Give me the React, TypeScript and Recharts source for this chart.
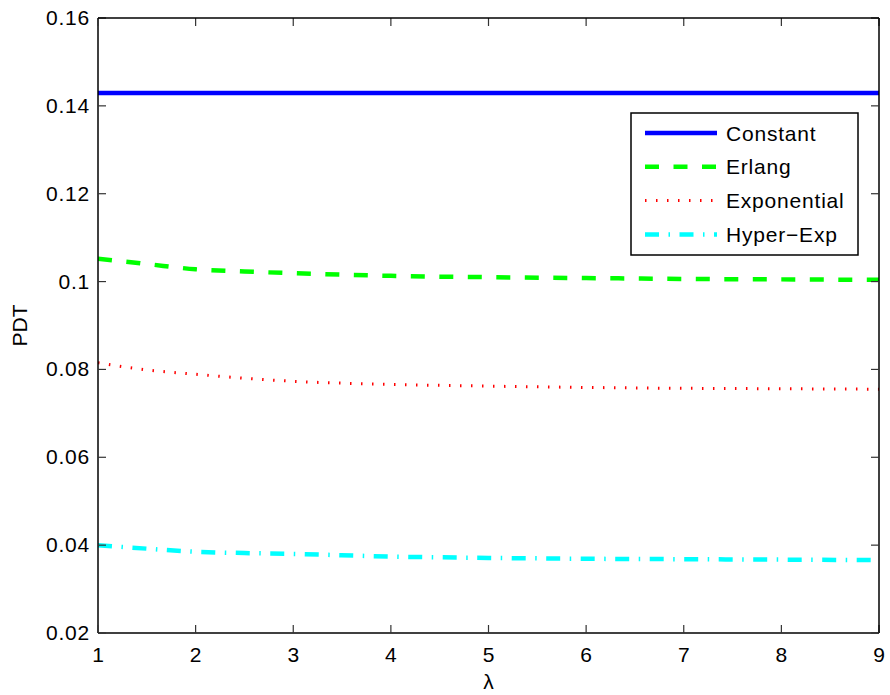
import React from 'react';
import { LineChart, Line, XAxis, YAxis } from 'recharts';

// lambda values along the x axis
const lambdaValues = [1, 1.5, 2, 2.5, 3, 4, 5, 6, 7, 8, 9];

const constantPdt = [0.1429, 0.1429, 0.1429, 0.1429, 0.1429, 0.1429, 0.1429, 0.1429, 0.1429, 0.1429, 0.1429];
const erlangPdt = [0.1052, 0.104, 0.1028, 0.1023, 0.1019, 0.1013, 0.101, 0.1008, 0.1006, 0.1005, 0.1004];
const exponentialPdt = [0.0815, 0.0799, 0.0789, 0.078, 0.0773, 0.0766, 0.0762, 0.0759, 0.0757, 0.0756, 0.0755];
const hyperExpPdt = [0.04, 0.0392, 0.0385, 0.0382, 0.038, 0.0374, 0.0371, 0.0369, 0.0368, 0.0367, 0.0366];

const xTicks = [1, 2, 3, 4, 5, 6, 7, 8, 9];
const yTicks = [0.02, 0.04, 0.06, 0.08, 0.1, 0.12, 0.14, 0.16];

const series = [
  { key: 'constant', name: 'Constant', color: '#0000ff', width: 4.5, dash: undefined as string | undefined },
  { key: 'erlang', name: 'Erlang', color: '#00ff00', width: 4.5, dash: '14 14.5' },
  { key: 'exponential', name: 'Exponential', color: '#ff0000', width: 3, dash: '1.5 9.5' },
  { key: 'hyperExp', name: 'Hyper\u2212Exp', color: '#00ffff', width: 4.5, dash: '14 9.5 1.5 9.5' },
];

const data = lambdaValues.map((lambda, i) => ({
  lambda,
  constant: constantPdt[i],
  erlang: erlangPdt[i],
  exponential: exponentialPdt[i],
  hyperExp: hyperExpPdt[i],
}));

const FONT = '"Liberation Sans", Arial, Helvetica, sans-serif';
const FONT_SIZE = 21;
const SPACING = 0.8;
const TICK_LEN = 8;
const TICK_GAP = 8;

const CHART_W = 890;
const CHART_H = 695;
const MARGIN = { top: 18, right: 11, bottom: 0, left: 0 };
const Y_AXIS_W = 98;
const X_AXIS_H = 62;
const PLOT_W = CHART_W - MARGIN.left - MARGIN.right - Y_AXIS_W;
const PLOT_H = CHART_H - MARGIN.top - MARGIN.bottom - X_AXIS_H;

const seg = (x1: number, y1: number, x2: number, y2: number) => `M${x1},${y1}L${x2},${y2}`;

// left ticks also draw the mirrored tick on the right side and the top border
const LeftTick = (props: any) => {
  const x = Number(props.x);
  const y = Number(props.y);
  const { payload, index } = props;
  const axisX = x + TICK_GAP;
  const rightX = axisX + PLOT_W;
  return (
    <g>
      <path d={seg(axisX, y, axisX + TICK_LEN, y)} stroke="#333" strokeWidth={1.2} fill="none" />
      <path d={seg(rightX, y, rightX - TICK_LEN, y)} stroke="#333" strokeWidth={1.2} fill="none" />
      {index === yTicks.length - 1 && (
        <path d={seg(axisX, y, rightX, y)} stroke="#000" strokeWidth={1.5} fill="none" />
      )}
      <text x={x} y={y} dy={7} textAnchor="end" fontSize={FONT_SIZE} letterSpacing={SPACING} fontFamily={FONT} fill="#000">
        {payload.value}
      </text>
    </g>
  );
};

// bottom ticks also draw the mirrored tick on top and the right border
const BottomTick = (props: any) => {
  const x = Number(props.x);
  const y = Number(props.y);
  const { payload, index } = props;
  const axisY = y - TICK_GAP;
  const topY = axisY - PLOT_H;
  return (
    <g>
      <path d={seg(x, axisY, x, axisY - TICK_LEN)} stroke="#333" strokeWidth={1.2} fill="none" />
      <path d={seg(x, topY, x, topY + TICK_LEN)} stroke="#333" strokeWidth={1.2} fill="none" />
      {index === xTicks.length - 1 && (
        <path d={seg(x, topY, x, axisY)} stroke="#000" strokeWidth={1.5} fill="none" />
      )}
      <text x={x} y={y} dy={21} textAnchor="middle" fontSize={FONT_SIZE} fontFamily={FONT} fill="#000">
        {payload.value}
      </text>
    </g>
  );
};

const LegendBox = () => (
  <svg width={229} height={144} style={{ display: 'block' }}>
    <rect x={1} y={1} width={227} height={142} fill="#fff" stroke="#000" strokeWidth={1.5} />
    {series.map((s, i) => {
      const cy = 21 + i * 33.8;
      return (
        <g key={s.key}>
          <path d={seg(15, cy, 87, cy)} stroke={s.color} strokeWidth={s.width} strokeDasharray={s.dash} fill="none" />
          <text x={96} y={cy} dy={7.5} fontSize={FONT_SIZE} letterSpacing={SPACING} fontFamily={FONT} fill="#000">
            {s.name}
          </text>
        </g>
      );
    })}
  </svg>
);

const App: React.FC = () => {
  return (
    <div style={{ position: 'absolute', left: 0, top: 0, width: CHART_W, height: CHART_H, background: '#fff' }}>
      <LineChart width={CHART_W} height={CHART_H} data={data} margin={MARGIN}>
        <XAxis
          dataKey="lambda"
          type="number"
          domain={[1, 9]}
          ticks={xTicks}
          allowDataOverflow
          height={X_AXIS_H}
          tickSize={0}
          tickMargin={TICK_GAP}
          tickLine={false}
          axisLine={{ stroke: '#000', strokeWidth: 1.5 }}
          tick={<BottomTick />}
          label={{ value: '\u03bb', position: 'insideBottom', offset: 6, fontSize: FONT_SIZE, fontFamily: FONT, fill: '#000' }}
        />
        <YAxis
          type="number"
          domain={[0.02, 0.16]}
          ticks={yTicks}
          allowDataOverflow
          width={Y_AXIS_W}
          tickSize={0}
          tickMargin={TICK_GAP}
          tickLine={false}
          axisLine={{ stroke: '#000', strokeWidth: 1.5 }}
          tick={<LeftTick />}
          label={{ value: 'PDT', angle: -90, position: 'insideLeft', offset: 20, fontSize: FONT_SIZE, fontFamily: FONT, fill: '#000', style: { textAnchor: 'middle' } }}
        />
        {series.map((s) => (
          <Line
            key={s.key}
            type="monotone"
            dataKey={s.key}
            name={s.name}
            stroke={s.color}
            strokeWidth={s.width}
            strokeDasharray={s.dash}
            dot={false}
            activeDot={false}
            isAnimationActive={false}
          />
        ))}
      </LineChart>
      <div style={{ position: 'absolute', left: 630, top: 112 }}>
        <LegendBox />
      </div>
    </div>
  );
};

export default App;
